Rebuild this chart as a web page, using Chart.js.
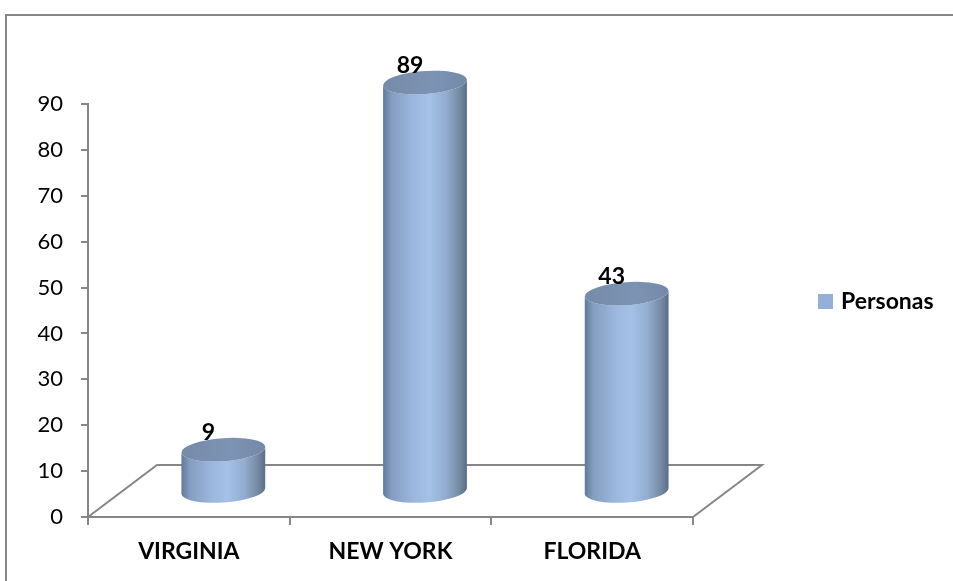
<!DOCTYPE html>
<html>
<head>
<meta charset="utf-8">
<script src="https://cdn.jsdelivr.net/npm/chart.js@4/dist/chart.umd.min.js"></script>
<style>
  html, body { margin: 0; padding: 0; background: #fff; }
  canvas { display: block; }
</style>
</head>
<body>
<canvas id="cylChart" width="953" height="581"></canvas>
<script>
const categories = ['VIRGINIA', 'NEW YORK', 'FLORIDA'];
const personas = [9, 89, 43];
const seriesName = 'Personas';
const yMin = 0;
const yMax = 90;
const yStep = 10;

const axisColor = '#868686';
const fontFamily = 'Lato, "Open Sans", sans-serif';

// depth of the 3D floor (back edge offset) and cylinder size
const depthX = 69, depthY = 52;
const cylRadius = 42, cylRy = 11.5, cylTilt = -0.07;

function ellipsePoint(cx, cy, a) {
    const c = Math.cos(cylTilt), s = Math.sin(cylTilt);
    const px = cylRadius * Math.cos(a), py = cylRy * Math.sin(a);
    return [cx + px * c - py * s, cy + px * s + py * c];
}

const frame3d = {
    id: 'frame3d',
    beforeDraw(chart) {
        const ctx = chart.ctx;
        ctx.save();
        ctx.fillStyle = '#fff';
        ctx.fillRect(0, 0, chart.width, chart.height);
        // outer chart border
        ctx.strokeStyle = axisColor;
        ctx.lineWidth = 2;
        ctx.beginPath();
        ctx.moveTo(6, chart.height);
        ctx.lineTo(6, 15);
        ctx.lineTo(chart.width, 15);
        ctx.stroke();
        ctx.restore();
    },
    beforeDatasetsDraw(chart) {
        // floor outline
        const ctx = chart.ctx;
        const { left, right, bottom } = chart.chartArea;
        ctx.save();
        ctx.strokeStyle = axisColor;
        ctx.lineWidth = 2;
        ctx.beginPath();
        ctx.moveTo(left, bottom);
        ctx.lineTo(left + depthX, bottom - depthY);
        ctx.lineTo(right + depthX, bottom - depthY);
        ctx.lineTo(right, bottom);
        ctx.stroke();
        ctx.restore();
    },
    afterDatasetsDraw(chart) {
        const ctx = chart.ctx;
        const yScale = chart.scales.y;
        const meta = chart.getDatasetMeta(0);
        const values = chart.data.datasets[0].data;
        meta.data.forEach((bar, i) => {
            const cx = bar.x + depthX / 2;
            const yb = yScale.getPixelForValue(0) - depthY / 2;
            const yt = bar.y - depthY / 2;

            const grad = ctx.createLinearGradient(cx - cylRadius, 0, cx + cylRadius, 0);
            grad.addColorStop(0, '#617899');
            grad.addColorStop(0.1, '#849dc0');
            grad.addColorStop(0.35, '#9bb6dc');
            grad.addColorStop(0.55, '#a5c1e7');
            grad.addColorStop(0.75, '#93add1');
            grad.addColorStop(0.92, '#72889f');
            grad.addColorStop(1, '#5a6c89');

            ctx.save();
            const [ltx, lty] = ellipsePoint(cx, yt, Math.PI);
            const [lbx, lby] = ellipsePoint(cx, yb, Math.PI);
            const [rtx, rty] = ellipsePoint(cx, yt, 0);
            ctx.beginPath();
            ctx.moveTo(ltx, lty);
            ctx.lineTo(lbx, lby);
            ctx.ellipse(cx, yb, cylRadius, cylRy, cylTilt, Math.PI, 0, true);
            ctx.lineTo(rtx, rty);
            ctx.ellipse(cx, yt, cylRadius, cylRy, cylTilt, 0, Math.PI, false);
            ctx.closePath();
            ctx.fillStyle = grad;
            ctx.fill();

            // top cap
            const capGrad = ctx.createLinearGradient(cx - cylRadius, 0, cx + cylRadius, 0);
            capGrad.addColorStop(0, '#768ba9');
            capGrad.addColorStop(0.6, '#7d93b3');
            capGrad.addColorStop(1, '#7489a8');
            ctx.beginPath();
            ctx.ellipse(cx, yt, cylRadius, cylRy, cylTilt, 0, Math.PI * 2);
            ctx.fillStyle = capGrad;
            ctx.fill();

            // value label
            ctx.fillStyle = '#000';
            ctx.font = 'bold 23px ' + fontFamily;
            ctx.textAlign = 'center';
            ctx.textBaseline = 'middle';
            ctx.fillText(String(values[i]), cx - 15, yt - 17);
            ctx.restore();
        });
    },
    afterDraw(chart) {
        // legend
        const ctx = chart.ctx;
        const x = chart.chartArea.right + 125;
        const y = 302;
        ctx.save();
        ctx.fillStyle = '#94b0d8';
        ctx.fillRect(x, y - 8, 15, 15);
        ctx.fillStyle = '#000';
        ctx.font = 'bold 23px ' + fontFamily;
        ctx.textAlign = 'left';
        ctx.textBaseline = 'middle';
        ctx.fillText(seriesName, x + 23, y);
        ctx.restore();
    }
};

const chartCtx = document.getElementById('cylChart').getContext('2d');
const cylChart = new Chart(chartCtx, {
    type: 'bar',
    data: {
        labels: categories,
        datasets: [{
            label: seriesName,
            data: personas,
            backgroundColor: 'rgba(0,0,0,0)',
            borderWidth: 0
        }]
    },
    options: {
        responsive: false,
        animation: false,
        devicePixelRatio: 1,
        layout: {
            padding: { top: 104, right: 260, bottom: 0, left: 0 }
        },
        plugins: {
            legend: { display: false },
            tooltip: { enabled: false }
        },
        scales: {
            x: {
                afterFit: (scale) => { scale.height = 64; },
                grid: {
                    offset: true,
                    drawOnChartArea: false,
                    tickLength: 8,
                    color: axisColor,
                    lineWidth: 2
                },
                border: { color: axisColor, width: 2 },
                ticks: {
                    color: '#000',
                    padding: 13,
                    font: { family: fontFamily, size: 23, weight: 'bold' }
                }
            },
            y: {
                min: yMin,
                max: yMax,
                afterFit: (scale) => { scale.width = 88; },
                grid: {
                    drawOnChartArea: false,
                    tickLength: 7,
                    color: axisColor,
                    lineWidth: 2
                },
                border: { color: axisColor, width: 2 },
                ticks: {
                    stepSize: yStep,
                    color: '#000',
                    padding: 18,
                    font: { family: fontFamily, size: 22 }
                }
            }
        }
    },
    plugins: [frame3d]
});
</script>
</body>
</html>
